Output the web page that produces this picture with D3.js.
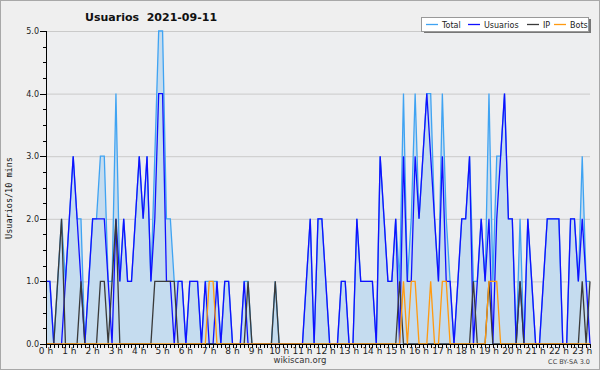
<!DOCTYPE html>
<html><head><meta charset="utf-8">
<script src="https://cdn.jsdelivr.net/npm/d3@7"></script>
<style>html,body{margin:0;padding:0;background:#efefef}svg{display:block}</style>
</head><body>
<svg id="c" width="600" height="370"></svg>
<script>
// 10-minute slots from 0:00 (index 0) to 23:20 (index 140)
const usuarios = [
  1,1,0,0,0,1,2,3,2,1,
  0,1,2,2,2,2,1,0,2,1,
  2,1,1,2,3,2,3,1,2,4,
  4,1,1,0,1,1,0,1,1,1,
  0,1,0,0,1,0,1,1,0,0,
  0,1,0,0,0,0,0,0,0,0,
  0,0,0,0,0,0,0,1,2,0,
  2,2,1,0,0,0,1,1,0,0,
  2,1,1,1,1,0,3,2,1,1,
  2,0,3,1,1,3,2,3,4,3,
  2,1,3,1,1,0,1,2,2,3,
  0,1,2,1,2,0,2,3,4,2,
  2,0,1,0,2,1,0,0,1,2,
  2,2,2,0,0,2,2,1,2,1,0
];
const ip = [
  0,0,0,1,2,0,0,0,0,1,
  0,0,0,0,1,1,0,1,2,0,
  0,0,0,0,0,0,0,0,1,1,
  1,1,1,1,0,0,0,0,0,0,
  0,0,0,0,0,0,0,0,0,0,
  0,0,1,0,0,0,0,0,0,1,
  0,0,0,0,0,0,0,0,0,0,
  0,0,0,0,0,0,0,0,0,0,
  0,0,0,0,0,0,0,0,0,0,
  0,1,0,0,0,0,0,0,0,0,
  0,0,0,0,0,0,0,0,0,0,
  1,0,0,0,1,0,0,0,0,0,
  0,0,1,0,0,0,0,0,0,0,
  0,0,0,0,0,0,0,0,1,0,1
];
const bots = [
  0,0,0,0,0,0,0,0,0,0,
  0,0,0,0,0,0,0,0,0,0,
  0,0,0,0,0,0,0,0,0,0,
  0,0,0,0,0,0,0,0,0,0,
  0,0,1,1,0,0,0,0,0,0,
  0,0,0,0,0,0,0,0,0,0,
  0,0,0,0,0,0,0,0,0,0,
  0,0,0,0,0,0,0,0,0,0,
  0,0,0,0,0,0,0,0,0,0,
  0,0,1,0,1,1,0,0,0,1,
  0,0,1,1,0,0,0,0,0,0,
  0,0,0,0,1,1,1,0,0,0,
  0,0,0,0,0,0,0,0,0,0,
  0,0,0,0,0,0,0,0,0,0,0
];
const total = [
  1,1,0,1,2,1,2,3,2,2,
  0,1,2,2,3,3,1,1,4,1,
  2,1,1,2,3,2,3,1,3,5,
  5,2,2,1,1,1,0,1,1,1,
  0,1,1,1,1,0,1,1,0,0,
  0,1,1,0,0,0,0,0,0,1,
  0,0,0,0,0,0,0,1,2,0,
  2,2,1,0,0,0,1,1,0,0,
  2,1,1,1,1,0,3,2,1,1,
  2,1,4,1,2,4,2,3,4,4,
  2,1,4,2,1,0,1,2,2,3,
  1,1,2,1,4,1,3,3,4,2,
  2,0,2,0,2,1,0,0,1,2,
  2,2,2,0,0,2,2,1,3,1,1
];
const hourLabels = d3.range(24).map(h => h + " h");
const yTicks = [0, 1, 2, 3, 4, 5];
const seriesNames = ["Total", "Usuarios", "IP", "Bots"];
const seriesColors = ["#3fa3f2", "#1010ff", "#3a3a3a", "#ff9a10"];

const svg = d3.select("#c");
const W = 600, H = 370;
const x = d3.scaleLinear().domain([0, total.length - 1]).range([46, 590]);
const y = d3.scaleLinear().domain([0, 5]).range([344, 31]);

svg.append("rect").attr("x", 0.5).attr("y", 0.5).attr("width", W - 1).attr("height", H - 1)
  .attr("fill", "#efefef").attr("stroke", "#a8a8a8");
svg.append("rect").attr("x", x.range()[0]).attr("y", y(5)).attr("width", x.range()[1] - x.range()[0])
  .attr("height", y(0) - y(5)).attr("fill", "#edeef0");

// grid
svg.append("g").selectAll("line").data(yTicks.filter(d => d > 0)).join("line")
  .attr("x1", x.range()[0]).attr("x2", x.range()[1])
  .attr("y1", d => y(d) + 0.5).attr("y2", d => y(d) + 0.5)
  .attr("stroke", "#cacaca").attr("stroke-width", 1);

// area + lines
const idx = d3.range(total.length);
svg.append("path").datum(idx)
  .attr("d", d3.area().x(i => x(i)).y0(y(0)).y1(i => y(total[i])))
  .attr("fill", "#c5dcef");
const lineFor = arr => d3.line().x(i => x(i)).y(i => y(arr[i]));
[total, usuarios, ip, bots].forEach((arr, k) => {
  svg.append("path").datum(idx).attr("d", lineFor(arr)).attr("fill", "none")
    .attr("stroke", seriesColors[k]).attr("stroke-width", 1.3).attr("stroke-linejoin", "miter");
});

// y axis
const yAxis = svg.append("g");
yAxis.append("line").attr("x1", 46.5).attr("x2", 46.5).attr("y1", y(5)).attr("y2", y(0) + 1)
  .attr("stroke", "#000");
yAxis.selectAll("line.minor").data(d3.range(0, 5.01, 0.25)).join("line").attr("class", "minor")
  .attr("x1", d => Number.isInteger(d) ? 40 : 43).attr("x2", 46)
  .attr("y1", d => Math.round(y(d)) + 0.5).attr("y2", d => Math.round(y(d)) + 0.5)
  .attr("stroke", "#000");
yAxis.selectAll("text").data(yTicks).join("text")
  .attr("x", 39).attr("y", d => y(d) + 3)
  .attr("text-anchor", "end").attr("font-family", "DejaVu Sans").attr("font-size", 8)
  .attr("fill", "#222").text(d => d.toFixed(1));

// x axis
const xAxis = svg.append("g");
xAxis.append("line").attr("x1", 46).attr("x2", 590).attr("y1", 344.5).attr("y2", 344.5).attr("stroke", "#000");
xAxis.selectAll("line.t").data(idx).join("line").attr("class", "t")
  .attr("x1", i => Math.round(x(i)) + 0.5).attr("x2", i => Math.round(x(i)) + 0.5)
  .attr("y1", 344).attr("y2", 348).attr("stroke", "#000");
xAxis.selectAll("text").data(hourLabels).join("text")
  .attr("x", (d, h) => x(h * 6)).attr("y", 354)
  .attr("text-anchor", "middle").attr("font-family", "DejaVu Sans").attr("font-size", 9)
  .attr("fill", "#222").text(d => d);

// y title
svg.append("text").attr("transform", "translate(12,198) rotate(-90)")
  .attr("text-anchor", "middle").attr("font-family", "DejaVu Sans Mono").attr("font-size", 8.5)
  .attr("fill", "#111").text("Usuarios/10 mins");

// title
svg.append("text").attr("x", 85).attr("y", 21).attr("font-family", "DejaVu Sans")
  .attr("font-weight", "bold").attr("font-size", 11).attr("fill", "#111")
  .attr("xml:space", "preserve").style("white-space", "pre").text("Usuarios  2021-09-11");

// legend
const lg = svg.append("g");
lg.append("rect").attr("x", 424).attr("y", 19).attr("width", 167).attr("height", 14).attr("fill", "#777");
lg.append("rect").attr("x", 421.5).attr("y", 17.5).attr("width", 167).attr("height", 14)
  .attr("fill", "#fff").attr("stroke", "#999");
const lx = [426, 468, 527, 554];
seriesNames.forEach((n, k) => {
  lg.append("line").attr("x1", lx[k]).attr("x2", lx[k] + 12).attr("y1", 24.5).attr("y2", 24.5)
    .attr("stroke", seriesColors[k]).attr("stroke-width", 1.3);
  lg.append("text").attr("x", lx[k] + 16).attr("y", 28).attr("font-family", "DejaVu Sans")
    .attr("font-size", 8).attr("fill", "#222").text(n);
});

// footer
svg.append("text").attr("x", 300).attr("y", 363).attr("text-anchor", "middle")
  .attr("font-family", "DejaVu Sans").attr("font-size", 8.5).attr("fill", "#333").text("wikiscan.org");
svg.append("text").attr("x", 590).attr("y", 364).attr("text-anchor", "end")
  .attr("font-family", "DejaVu Sans").attr("font-size", 6.5).attr("fill", "#444").text("CC BY-SA 3.0");
</script>
</body></html>
